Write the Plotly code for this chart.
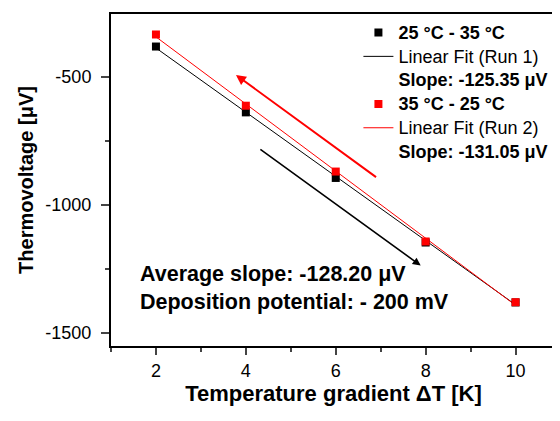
import numpy as np
import plotly.graph_objects as go

# Data
delta_t = [2, 4, 6, 8, 10]
run1_v = [-383, -640, -896, -1148, -1382]   # 25 °C - 35 °C
run2_v = [-336, -614, -871, -1144, -1381]   # 35 °C - 25 °C
run1_label = "25 °C - 35 °C"
run2_label = "35 °C - 25 °C"
fit1_label = "Linear Fit (Run 1)"
fit2_label = "Linear Fit (Run 2)"
slope1_text = "Slope: -125.35 μV"
slope2_text = "Slope: -131.05 μV"
note_line1 = "Average slope: -128.20 μV"
note_line2 = "Deposition potential: - 200 mV"
x_ticks = [2, 4, 6, 8, 10]
y_ticks = [-500, -1000, -1500]
y_tick_text = ["-500", "-1000", "-1500"]

FONT = "'Liberation Sans', Arial, sans-serif"
RED = "#ff0000"


def lg(txt, bold=False):
    inner = "<b>" + txt + "</b>" if bold else txt
    return '<span style="font-size:18px">' + inner + "</span>"


x_arr = np.array(delta_t, dtype=float)
p1 = np.polyfit(x_arr, run1_v, 1)
p2 = np.polyfit(x_arr, run2_v, 1)
xf = np.array([delta_t[0], delta_t[-1]], dtype=float)

fig = go.Figure()
fig.add_trace(go.Scatter(x=xf, y=np.polyval(p1, xf), mode="lines",
                         line=dict(color="black", width=1), name=lg(fit1_label), legendrank=2))
fig.add_trace(go.Scatter(x=xf, y=np.polyval(p2, xf), mode="lines",
                         line=dict(color=RED, width=1), name=lg(fit2_label), legendrank=5))
fig.add_trace(go.Scatter(x=delta_t, y=run1_v, mode="markers",
                         marker=dict(symbol="square", size=8, color="black"),
                         name=lg(run1_label, True), legendrank=1))
fig.add_trace(go.Scatter(x=delta_t, y=run2_v, mode="markers",
                         marker=dict(symbol="square", size=8, color=RED),
                         name=lg(run2_label, True), legendrank=4))
fig.add_trace(go.Scatter(x=[None], y=[None], mode="lines", line=dict(width=0, color="rgba(0,0,0,0)"),
                         name=lg(slope1_text, True), legendrank=3))
fig.add_trace(go.Scatter(x=[None], y=[None], mode="lines", line=dict(width=0, color="rgba(0,0,0,0)"),
                         name=lg(slope2_text, True), legendrank=6))

# Arrows
fig.add_annotation(x=3.78, y=-494, ax=6.93, ay=-897, xref="x", yref="y", axref="x", ayref="y",
                   showarrow=True, arrowhead=2, arrowsize=1, arrowwidth=2, arrowcolor=RED, text="")
fig.add_annotation(x=7.89, y=-1238, ax=4.29, ay=-780, xref="x", yref="y", axref="x", ayref="y",
                   showarrow=True, arrowhead=2, arrowsize=1, arrowwidth=1.6, arrowcolor="black", text="")

# Note text (single text block, two lines)
fig.add_annotation(x=1.6, y=-1327, xref="x", yref="y", xanchor="left", yanchor="middle",
                   text="<b>" + note_line1 + "</b><br><b>" + note_line2 + "</b>",
                   align="left", showarrow=False,
                   font=dict(family=FONT, size=21.5, color="black"))

fig.update_layout(
    width=552, height=413,
    margin=dict(l=103, r=4, t=6, b=75),
    paper_bgcolor="white", plot_bgcolor="white",
    font=dict(family=FONT, size=18, color="black"),
    showlegend=True,
    legend=dict(x=0.556, y=0.995, xanchor="left", yanchor="top", bgcolor="rgba(0,0,0,0)",
                font=dict(family=FONT, size=16, color="black"), traceorder="normal",
                itemwidth=30),
)
fig.update_xaxes(range=[1.0, 10.9], tickvals=x_ticks, ticks="outside", ticklen=7, tickwidth=2,
                 showline=True, linewidth=2, linecolor="black", mirror=True, showgrid=False,
                 zeroline=False, tickfont=dict(size=18), automargin=False,
                 minor=dict(dtick=1, ticks="outside", ticklen=4, tickwidth=2, showgrid=False),
                 title=dict(text="<b>Temperature gradient ΔT [K]</b>", font=dict(size=22), standoff=5))
fig.update_yaxes(range=[-1552, -256], tickvals=y_ticks, ticktext=y_tick_text, ticks="outside",
                 ticklen=8, tickwidth=2, ticklabelstandoff=6,
                 showline=True, linewidth=2, linecolor="black", mirror=True, showgrid=False,
                 zeroline=False, tickfont=dict(size=18), automargin=False,
                 minor=dict(dtick=250, tick0=0, ticks="outside", ticklen=4, tickwidth=2, showgrid=False),
                 title=dict(text="<b>Thermovoltage [μV]</b>", font=dict(size=20), standoff=6))

fig.write_html("out.html")
